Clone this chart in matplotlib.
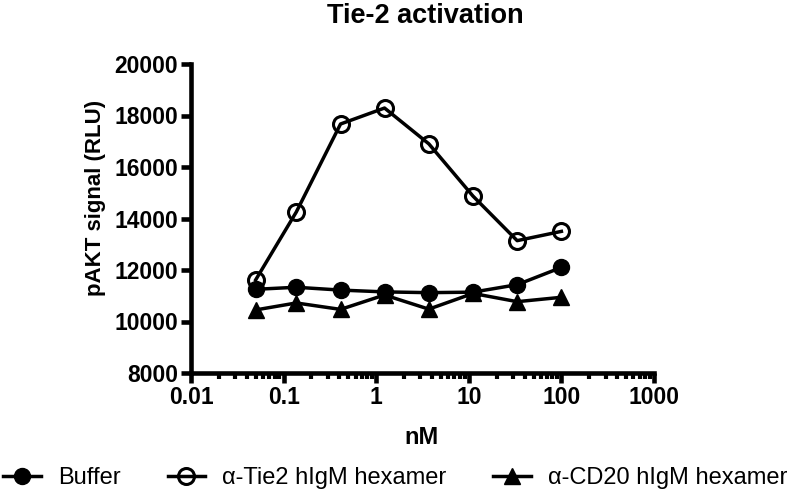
import matplotlib
matplotlib.use("Agg")
import matplotlib.pyplot as plt
import numpy as np
from matplotlib.ticker import LogLocator, FixedLocator, NullFormatter

plt.rcParams['font.family'] = ['Liberation Sans', 'DejaVu Sans']

conc = [0.05, 0.137, 0.412, 1.23, 3.7, 11.1, 33.3, 100]
buffer_vals = [11250, 11330, 11220, 11150, 11120, 11140, 11430, 12100]
tie2_vals = [11620, 14250, 17670, 18290, 16900, 14870, 13140, 13500]
cd20_vals = [10450, 10720, 10470, 11030, 10480, 11090, 10770, 10940]

series_names = ["Buffer", "α-Tie2 hIgM hexamer", "α-CD20 hIgM hexamer"]
y_ticks = [8000, 10000, 12000, 14000, 16000, 18000, 20000]
x_ticks = [0.01, 0.1, 1, 10, 100, 1000]
x_ticklabels = ["0.01", "0.1", "1", "10", "100", "1000"]

W, H = 800, 495
fig = plt.figure(figsize=(8, 4.95), dpi=100)
ax = fig.add_axes([191 / W, 1 - 373 / H, (654 - 191) / W, (373 - 64) / H])

lw = 2.5
ax.plot(conc, buffer_vals, color='black', lw=lw, marker='o', ms=11.5,
        mfc='black', mec='black', label=series_names[0], zorder=3)
ax.plot(conc, tie2_vals, color='black', lw=lw, marker='o', ms=11.5,
        mfc='none', mec='black', mew=2.2, label=series_names[1], zorder=4)
ax.plot(conc, cd20_vals, color='black', lw=lw, marker='^', ms=11,
        mfc='black', mec='black', label=series_names[2], zorder=3)

ax.set_xscale('log')
ax.set_xlim(0.01, 1000)
ax.set_ylim(8000, 20000)
ax.set_yticks(y_ticks)
ax.set_yticklabels([str(v) for v in y_ticks])
ax.xaxis.set_major_locator(FixedLocator(x_ticks))
ax.set_xticklabels(x_ticklabels)
ax.xaxis.set_minor_locator(LogLocator(base=10, subs=np.arange(2, 10)))
ax.xaxis.set_minor_formatter(NullFormatter())

for s in ['top', 'right']:
    ax.spines[s].set_visible(False)
for s in ['left', 'bottom']:
    ax.spines[s].set_linewidth(3.3)

ax.tick_params(axis='both', which='major', direction='out', length=7.5, width=3.3,
               labelsize=16.5, pad=2)
ax.tick_params(axis='x', which='minor', direction='out', length=4.5, width=3)
for lab in ax.get_xticklabels() + ax.get_yticklabels():
    lab.set_fontweight('bold')

fig.text(422 / W, 1 - 437 / H, "nM", fontsize=17, fontweight='bold',
         ha='center', va='center')
fig.text(96 / W, 1 - 198 / H, "pAKT signal (RLU)", fontsize=16, fontweight='bold',
         ha='center', va='center', rotation=90)
fig.text(425 / W, 1 - 16 / H, "Tie-2 activation", fontsize=19.5, fontweight='bold',
         ha='center', va='center')

fig.legend(loc='center', bbox_to_anchor=(0.494, 1 - 478 / H), ncol=3, frameon=False,
           fontsize=17, handlelength=1.6, columnspacing=2.0, handletextpad=0.7,
           borderaxespad=0, borderpad=0)

fig.savefig("out.png", dpi=100)
